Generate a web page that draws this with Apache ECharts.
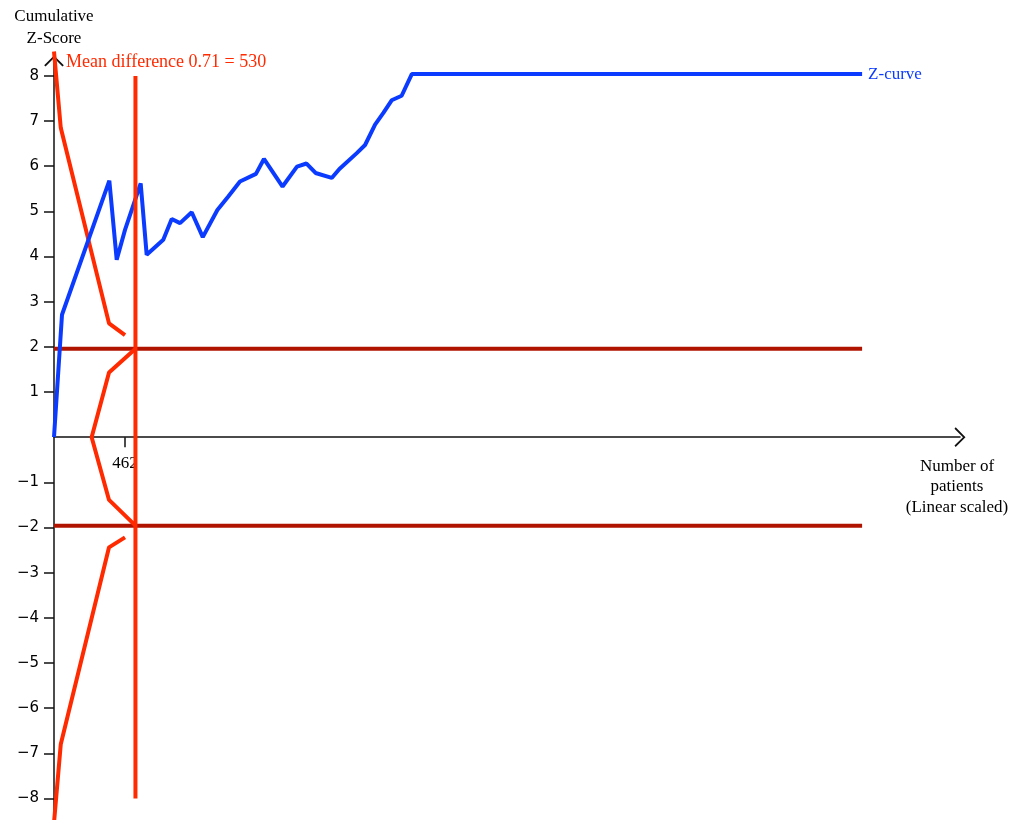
<!DOCTYPE html>
<html>
<head>
<meta charset="utf-8">
<script src="https://cdn.jsdelivr.net/npm/echarts@6/dist/echarts.min.js"></script>
<style>
html, body { margin: 0; padding: 0; background: #fff; }
#chart { width: 1015px; height: 820px; }
</style>
</head>
<body>
<div id="chart"></div>
<script>
// cumulative z-curve (patients, z)
const zCurveN = [0, 52, 360, 408, 462, 564, 603, 711, 766, 820, 896, 968, 1063, 1134, 1210, 1314, 1366, 1487, 1581, 1643, 1702, 1807, 1857, 1970, 2024, 2089, 2143, 2197, 2262, 2328, 5258];
const zCurveZ = [0, 2.71, 5.68, 3.93, 4.59, 5.62, 4.04, 4.37, 4.83, 4.74, 4.98, 4.43, 5.03, 5.33, 5.66, 5.83, 6.16, 5.55, 5.99, 6.06, 5.85, 5.74, 5.94, 6.29, 6.47, 6.92, 7.18, 7.46, 7.56, 8.04, 8.04];

// monitoring boundaries
const boundN = [0, 44, 358, 462];
const upperZ = [8.54, 6.85, 2.52, 2.26];
const lowerZ = [-8.54, -6.8, -2.44, -2.22];

// futility wedge
const futN = [530, 358, 245, 358, 530];
const futZ = [1.96, 1.43, 0, -1.39, -1.96];

// conventional boundaries and required information size
const convZ = [1.96, -1.96];
const convEndN = 5258;
const risN = 530;
const risZ = [8, -8];

const xTicks = [462];
const yTicks = [-8, -7, -6, -5, -4, -3, -2, -1, 1, 2, 3, 4, 5, 6, 7, 8];

const BLUE = '#0b3bff';
const RED = '#ff2a00';
const DARK_RED = '#b01400';
const SERIF = '"Liberation Serif", "DejaVu Serif", serif';
const ARROW = 'path://M0,10 L10,0 L20,10 L18.6,11.2 L10,2.6 L1.4,11.2 Z';

const Y_MIN = -8.5, Y_MAX = 8.33;
const GRID_TOP = 61, GRID_H = 760;
// put the x axis at z = 0 (v6 leaves onZero labels at the grid bottom)
const xOffset = -GRID_H * (0 - Y_MIN) / (Y_MAX - Y_MIN);

const zip = (xs, ys) => xs.map((x, i) => [x, ys[i]]);

function lineSeries(data, color, extra) {
    return Object.assign({
        type: 'line',
        data: data,
        symbol: 'none',
        silent: true,
        clip: false,
        lineStyle: { color: color, width: 4 },
        animation: false
    }, extra || {});
}

const chart = echarts.init(document.getElementById('chart'));

chart.setOption({
    animation: false,
    title: {
        text: 'Mean difference 0.71 = 530',
        left: 66,
        top: 53,
        padding: 0,
        textStyle: { color: RED, fontFamily: SERIF, fontSize: 18, fontWeight: 'normal' }
    },
    grid: { left: 54, top: GRID_TOP, width: 906, height: GRID_H, outerBoundsMode: 'none', containLabel: false },
    xAxis: {
        type: 'value',
        min: 0,
        max: 5895,
        offset: xOffset,
        axisLine: {
            onZero: false,
            lineStyle: { color: '#111', width: 1.5 },
            symbol: ['none', ARROW],
            symbolSize: [20, 11]
        },
        axisTick: { show: true, customValues: xTicks, length: 10, lineStyle: { color: '#111', width: 1.5 } },
        axisLabel: { customValues: xTicks, margin: 18, color: '#000', fontFamily: SERIF, fontSize: 17 },
        splitLine: { show: false }
    },
    yAxis: {
        type: 'value',
        min: Y_MIN,
        max: Y_MAX,
        name: 'Cumulative\nZ-Score',
        nameLocation: 'end',
        nameGap: 11,
        nameTextStyle: { color: '#000', fontFamily: SERIF, fontSize: 17, lineHeight: 22, align: 'center', verticalAlign: 'bottom' },
        axisLine: {
            lineStyle: { color: '#111', width: 1.5 },
            symbol: ['none', ARROW],
            symbolSize: [20, 11]
        },
        axisTick: { show: true, customValues: yTicks, length: 10, lineStyle: { color: '#111', width: 1.5 } },
        axisLabel: {
            customValues: yTicks,
            margin: 15,
            color: '#000',
            fontFamily: '"DejaVu Sans", sans-serif',
            fontSize: 15,
            formatter: v => String(v).replace('-', '\u2212')
        },
        splitLine: { show: false }
    },
    graphic: [{
        type: 'text',
        x: 957,
        y: 456,
        style: {
            text: 'Number of\npatients\n(Linear scaled)',
            align: 'center',
            verticalAlign: 'top',
            fill: '#000',
            font: '17px ' + SERIF,
            lineHeight: 20.5
        }
    }],
    series: [
        lineSeries([[0, convZ[0]], [convEndN, convZ[0]]], DARK_RED),
        lineSeries([[0, convZ[1]], [convEndN, convZ[1]]], DARK_RED),
        lineSeries(zip(boundN, upperZ), RED),
        lineSeries(zip(boundN, lowerZ), RED),
        lineSeries(zip(futN, futZ), RED),
        lineSeries(zip(zCurveN, zCurveZ), BLUE, {
            endLabel: {
                show: true,
                formatter: 'Z-curve',
                color: BLUE,
                fontFamily: SERIF,
                fontSize: 17,
                distance: 6
            }
        }),
        lineSeries([[risN, risZ[0]], [risN, risZ[1]]], RED)
    ]
});
</script>
</body>
</html>
